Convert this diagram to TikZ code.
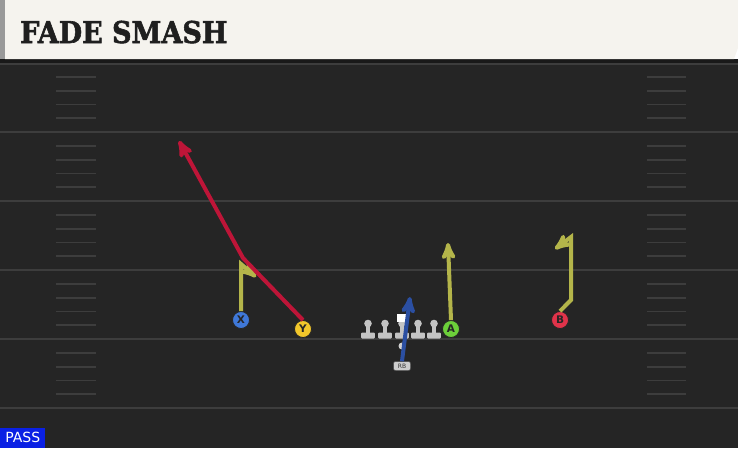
\documentclass[tikz,border=0pt]{standalone}
\usepackage{fontspec}
\usepackage{tikz}
\usepackage{xcolor}
\usetikzlibrary{arrows, calc, positioning}

\newfontfamily\titlefont[BoldFeatures={FakeBold=2}]{DejaVu Serif}
\newfontfamily\tagfont{DejaVu Sans}

\definecolor{fieldbg}{HTML}{252525}
\definecolor{hdrbg}{HTML}{F5F3EE}
\definecolor{yardln}{HTML}{3D3D3D}
\definecolor{olivert}{HTML}{B4B54A}
\definecolor{redrt}{HTML}{BE1538}
\definecolor{bluert}{HTML}{2B4FA2}
\definecolor{xblue}{HTML}{3F78D8}
\definecolor{yyel}{HTML}{F2C72B}
\definecolor{agrn}{HTML}{6CCF3A}
\definecolor{bred}{HTML}{E0334A}
\definecolor{olgray}{HTML}{C4C4C4}
\definecolor{passbl}{HTML}{0A20E4}

\tikzset{
    plyr/.style={circle, draw=black!85, line width=0.8pt, inner sep=0pt, minimum size=17pt,
        text=black!85, font=\tagfont\bfseries\fontsize{10.5}{10.5}\selectfont},
    route/.style={line width=4pt, ->, >=stealth', line join=miter},
    olman/.style={fill=olgray},
}

\begin{document}
\begin{tikzpicture}[x=1pt, y=-1pt]
    \useasboundingbox (0, 0) rectangle (738, 448);
    % field
    \fill[fieldbg] (0, 59) rectangle (738, 448);
    \fill[black!90] (0, 59) rectangle (738, 63);
    \draw[yardln, line width=1.5pt] (0, 64) -- (738, 64);
    \foreach \yl in {132, 201, 270, 339, 408}
        \draw[yardln, line width=2pt] (0, \yl) -- (738, \yl);
    \foreach \k in {1, ..., 24} {
        \pgfmathtruncatemacro{\rem}{mod(\k, 5)}
        \ifnum\rem>0
            \draw[yardln, line width=1.8pt] (56, 63 + 13.8*\k) -- (96, 63 + 13.8*\k);
            \draw[yardln, line width=1.8pt] (647, 63 + 13.8*\k) -- (686, 63 + 13.8*\k);
        \fi
    }
    % header
    \fill[hdrbg] (5, 0) -- (738, 0) -- (738, 48) -- (734, 59) -- (5, 59) -- cycle;
    \fill[black!40] (0, 0) rectangle (5, 59);
    \node[anchor=base west, inner sep=0pt, text=black!88,
        font=\titlefont\bfseries\fontsize{30}{30}\selectfont] (ttl) at (20, 43)
        {\scalebox{0.9}[1]{FADE SMASH}};
    % line
    \foreach \lx in {368, 385, 402, 418, 434} {
        \fill[olman] (\lx, 323.5) circle (3.8);
        \fill[olman] (\lx - 2.3, 323) rectangle (\lx + 2.3, 334);
        \fill[olman, rounded corners=1pt] (\lx - 6.8, 332.5) rectangle (\lx + 6.8, 338.5);
    }
    \fill[white] (397, 314) rectangle (406, 322);
    % players
    \node[plyr, fill=xblue] (x) at (241, 320) {X};
    \node[plyr, fill=yyel] (y) at (303, 329) {Y};
    \node[plyr, fill=agrn] (a) at (451, 329) {A};
    \node[plyr, fill=bred] (b) at (560, 320) {B};
    \node[circle, fill=olgray!80, inner sep=0pt, minimum size=7pt] (rbd) at (402, 346) {};
    \node[rounded corners=2pt, fill=olgray!85, draw=black!70, line width=0.5pt, inner sep=0pt,
        minimum width=17pt, minimum height=9pt, text=black!80,
        font=\tagfont\fontsize{6}{6}\selectfont] (rb) at (402, 366) {RB};
    % route points
    \coordinate (xa) at (241, 264);
    \coordinate (xb) at (256, 277);
    \coordinate (ya) at (243, 258);
    \coordinate (yb) at (179, 141);
    \coordinate (at) at (448, 243);
    \coordinate (ba) at (571, 300);
    \coordinate (bb) at (571, 237);
    \coordinate (bc) at (555, 249);
    \coordinate (rbt) at (410, 297);
    % routes
    \draw[route, olivert] (x.north) -- (xa) -- (xb);
    \draw[route, redrt] (y.north) -- (ya) -- (yb);
    \draw[route, olivert] (a.north) -- (at);
    \draw[route, olivert] (b.north) -- (ba) -- (bb) -- (bc);
    \draw[route, bluert] (rb.north) -- (rbt);
    % tag
    \node[fill=passbl, text=white, anchor=south west, minimum width=45pt, minimum height=20pt,
        inner sep=0pt, font=\tagfont\fontsize{14}{14}\selectfont] (pass) at (0, 448) {PASS};
\end{tikzpicture}
\end{document}
